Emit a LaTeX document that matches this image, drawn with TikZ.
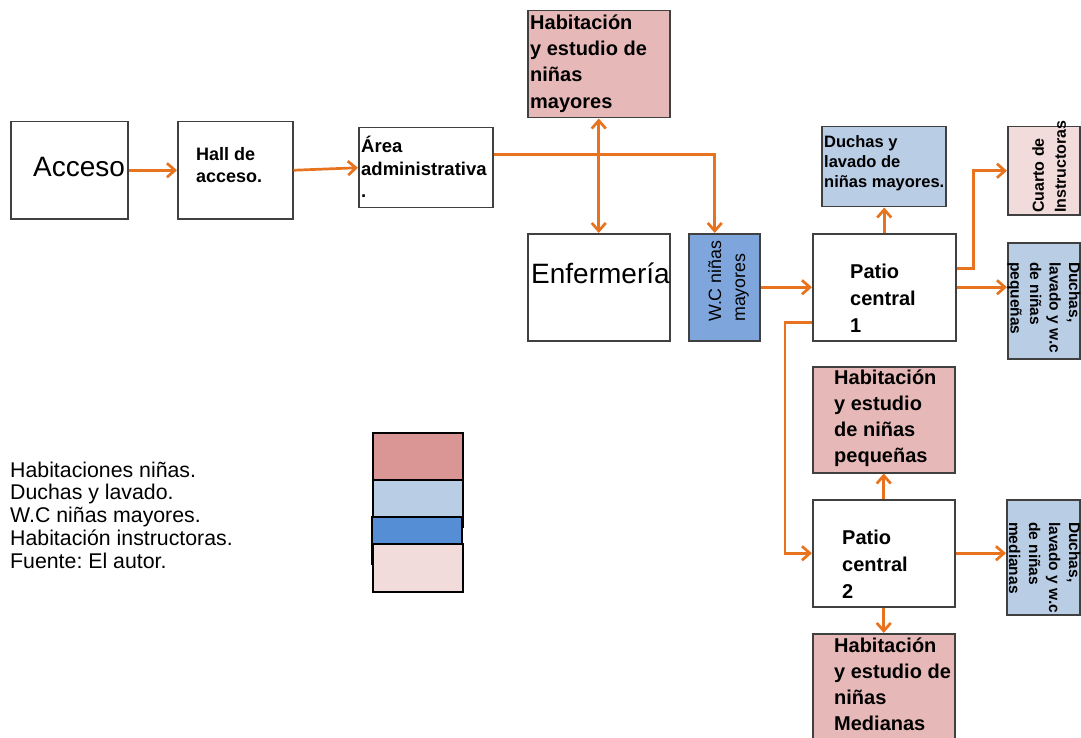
\documentclass[tikz,border=0pt]{standalone}
\usepackage{fontspec}
\setmainfont{Liberation Sans}
\usetikzlibrary{arrows.meta}
\definecolor{pinkbox}{HTML}{E6B9B8}
\definecolor{lightblue}{HTML}{B9CDE5}
\definecolor{wcblue}{HTML}{7EA6DD}
\definecolor{legblue}{HTML}{558ED5}
\definecolor{legpink}{HTML}{D99694}
\definecolor{palepink}{HTML}{F2DCDB}
\definecolor{arroworange}{HTML}{E8731E}
\definecolor{boxborder}{HTML}{404040}
\frenchspacing
\tikzset{
  box/.style={draw=boxborder, line width=1.5pt, anchor=north west, inner sep=0pt},
  legbox/.style={draw=black, line width=2pt, anchor=north west, inner sep=0pt},
  txt/.style={anchor=north west, inner sep=0pt, align=left},
  barb/.tip={Straight Barb[length=8pt,width=14pt]},
  conn/.style={draw=arroworange, line width=2.7pt, -barb},
  bconn/.style={draw=arroworange, line width=2.7pt, barb-barb},
}
\newcommand{\fsz}[2]{\fontsize{#1pt}{#2pt}\selectfont}
\begin{document}
\begin{tikzpicture}[x=1pt,y=-1pt]
\useasboundingbox (0,0) rectangle (1081,738);
\clip (0,0) rectangle (1081,738);
% boxes
\node[box, minimum width=117pt, minimum height=97pt] (acc) at (10,121) {};
\node[box, minimum width=115pt, minimum height=97pt] (hall) at (177,121) {};
\node[box, minimum width=134pt, minimum height=80pt] (area) at (358,127) {};
\node[box, fill=pinkbox, minimum width=142pt, minimum height=107pt] (hm) at (527,10) {};
\node[box, minimum width=142pt, minimum height=107pt] (enf) at (527,233) {};
\node[box, fill=wcblue, minimum width=71pt, minimum height=107pt] (wc) at (688,233) {};
\node[box, minimum width=143pt, minimum height=107pt] (p1) at (812,233) {};
\node[box, fill=lightblue, minimum width=124pt, minimum height=80pt] (dm) at (821,126) {};
\node[box, fill=palepink, minimum width=72pt, minimum height=88pt] (ci) at (1007,126) {};
\node[box, fill=lightblue, minimum width=72pt, minimum height=116pt] (dp) at (1007,242) {};
\node[box, fill=pinkbox, minimum width=142pt, minimum height=106pt] (hp) at (812,366) {};
\node[box, minimum width=142pt, minimum height=107pt] (p2) at (812,499) {};
\node[box, fill=lightblue, minimum width=73pt, minimum height=115pt] (dmed) at (1006,499) {};
\node[box, fill=pinkbox, minimum width=142pt, minimum height=120pt] (hmed) at (812,633) {};
% texts
\node[anchor=base west, inner sep=0pt, font=\fsz{28}{32}] (acct) at (33,177) {Acceso};
\node[txt, font=\bfseries\fsz{18}{22}] (hallt) at (196,147) {Hall de\\acceso.};
\node[txt, font=\bfseries\fsz{18.5}{22.5}] (areat) at (361,136) {Área\\administrativa\\.};
\node[txt, font=\bfseries\fsz{20}{26.3}] (hmt) at (530,14.5) {Habitación\\y estudio de\\niñas\\mayores};
\node[anchor=base west, inner sep=0pt, font=\fsz{28}{32}] (enft) at (531,283) {Enfermería};
\node[txt, rotate=90, font=\fsz{17.8}{24}] (wct) at (708,322) {W.C niñas\\mayores};
\node[txt, font=\bfseries\fsz{20}{27}] (p1t) at (850,263.7) {Patio\\central\\1};
\node[txt, font=\bfseries\fsz{16.5}{20}] (dmt) at (824,135) {Duchas y\\lavado de\\niñas mayores.};
\node[txt, rotate=90, font=\bfseries\fsz{16}{22}] (cit) at (1032,213) {Cuarto de\\Instructoras};
\node[txt, rotate=-90, font=\bfseries\fsz{15.5}{19.5}] (dpt) at (1080.5,262) {Duchas,\\lavado y w.c\\de niñas\\pequeñas};
\node[txt, font=\bfseries\fsz{20}{26}] (hpt) at (834,369.5) {Habitación\\y estudio\\de niñas\\pequeñas};
\node[txt, font=\bfseries\fsz{20}{27}] (p2t) at (842,529.7) {Patio\\central\\2};
\node[txt, rotate=-90, font=\bfseries\fsz{15.5}{20}] (dmedt) at (1080.5,522) {Duchas,\\lavado y w.c\\de niñas\\medianas};
\node[txt, font=\bfseries\fsz{20}{26}] (hmedt) at (834,637.5) {Habitación\\y estudio de\\niñas\\Medianas};
% legend
\node[txt, font=\fsz{21.3}{22.8}] (legt) at (10,461.5) {Habitaciones niñas.\\Duchas y lavado.\\W.C niñas mayores.\\Habitación instructoras.\\Fuente: El autor.};
\node[legbox, fill=legpink, minimum width=90pt, minimum height=47pt] (leg1) at (372,432) {};
\node[legbox, fill=lightblue, minimum width=90pt, minimum height=47pt] (leg2) at (372,479) {};
\node[legbox, fill=legblue, minimum width=90pt, minimum height=47pt] (leg3) at (371,516) {};
\node[legbox, fill=palepink, minimum width=90pt, minimum height=48pt] (leg4) at (372,543) {};
% connectors
\draw[conn] (acc.east) -- (hall.west);
\draw[conn] (hall.east) -- (area.west);
\draw[conn] ([yshift=13pt]area.east) -| ([xshift=-9.5pt]wc.north);
\draw[bconn] (hm.south) -- (enf.north);
\draw[conn] (wc.east) -- (p1.west);
\draw[conn] (p1.north) -- (p1.north |- dm.south);
\draw[conn] ([yshift=18.5pt]p1.east) -- ++(17,0) |- (ci.west);
\draw[conn] (p1.east) -- (p1.east -| dp.west);
\draw[conn] ([yshift=-35.5pt]p1.west) -- ++(-27,0) |- (p2.west);
\draw[conn] (p2.north) -- (p2.north |- hp.south);
\draw[conn] (p2.east) -- (p2.east -| dmed.west);
\draw[conn] (p2.south) -- (p2.south |- hmed.north);
\end{tikzpicture}
\end{document}
